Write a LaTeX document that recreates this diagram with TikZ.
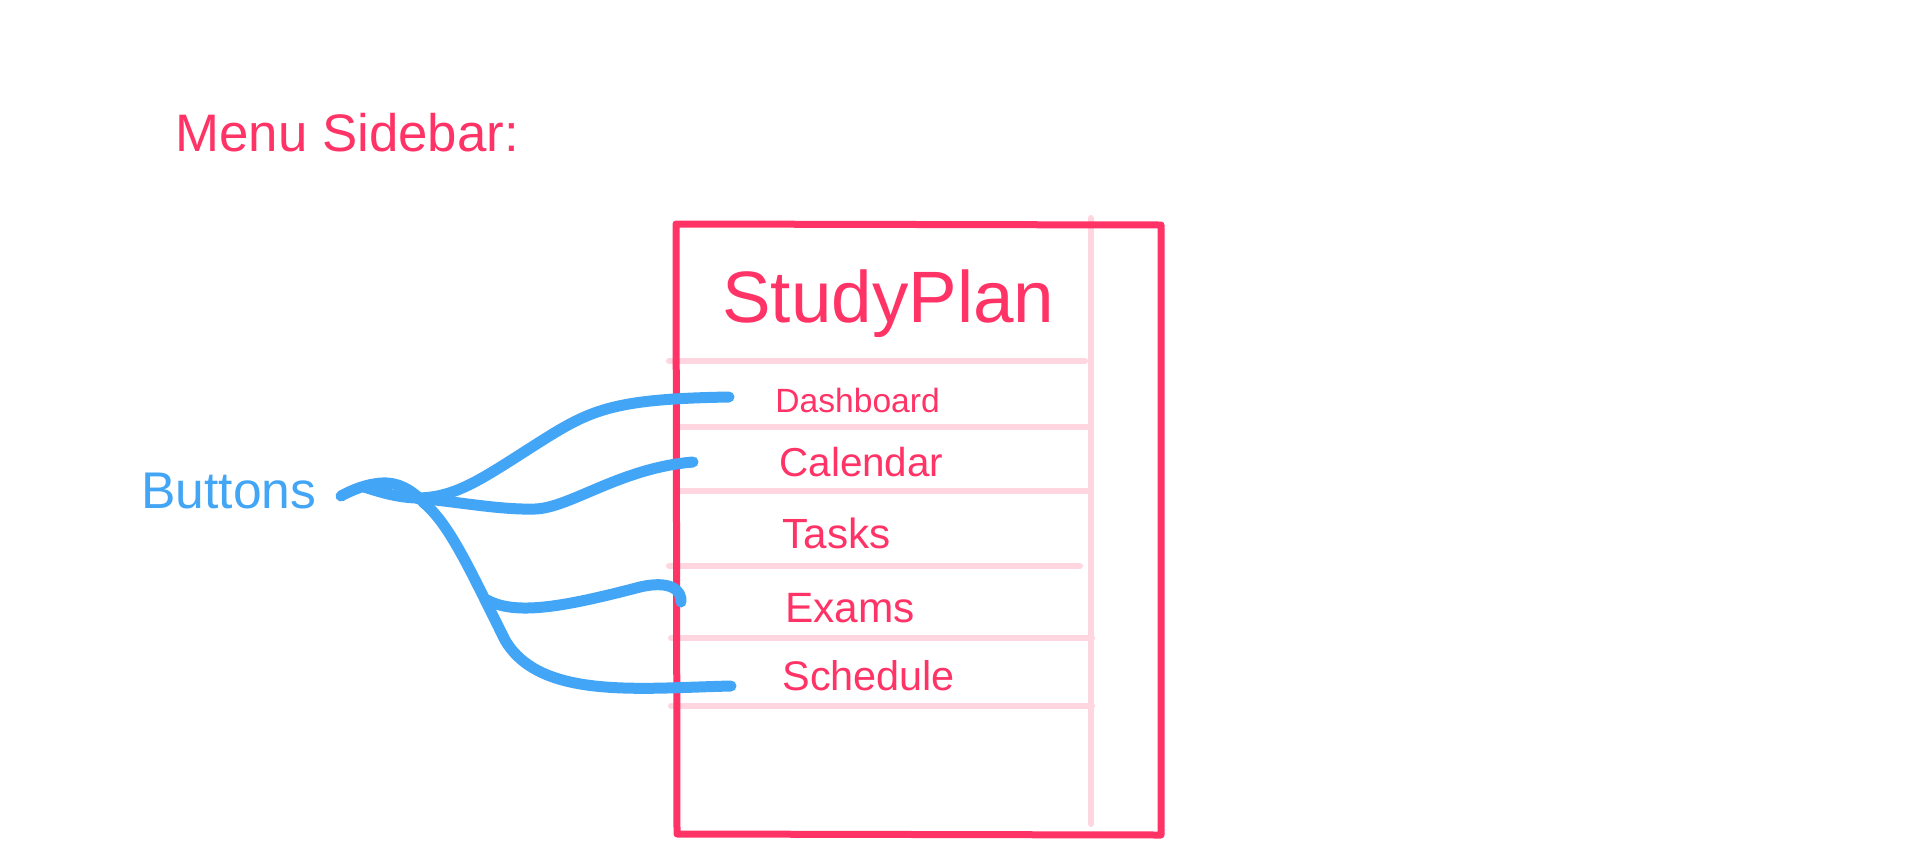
\documentclass[tikz,border=0pt]{standalone}
\usepackage{fontspec}
\setmainfont{Liberation Sans}
\definecolor{rosered}{RGB}{255,51,102}
\definecolor{palepink}{RGB}{255,214,224}
\definecolor{skyblue}{RGB}{66,165,245}
\begin{document}
\begin{tikzpicture}[x=0.5pt,y=-0.5pt,
  frame/.style={draw=rosered,line width=3.5pt,line join=round,line cap=round},
  divider/.style={draw=palepink,line width=3pt,line cap=round},
  wire/.style={draw=skyblue,line width=5.5pt,line cap=round,line join=round},
  lbl/.style={text=rosered,anchor=base west,inner sep=0pt},
  every node/.style={inner sep=0pt}]
\useasboundingbox (0,0) rectangle (1920,841);
% title
\node[lbl,font=\fontsize{26.4}{30}\selectfont] (title) at (175,151) {Menu Sidebar:};
% pale dividers
\draw[divider] (1091,218) -- (1091,824);
\draw[divider] (669,361) -- (1085,361);
\draw[divider] (677,427) -- (1087,427);
\draw[divider] (677,491) -- (1091,491);
\draw[divider] (669,566) -- (1080,566);
\draw[divider] (671,638) -- (1092,638);
\draw[divider] (671,706) -- (1092,706);
% frame
\draw[frame] (676,224) -- (1161,225) -- (1161,835) -- (677,834) -- cycle;
% texts
\node[lbl,font=\fontsize{36.4}{40}\selectfont] (studyplan) at (722,322) {StudyPlan};
\node[lbl,font=\fontsize{16.8}{20}\selectfont] (dash) at (775,412) {Dashboard};
\node[lbl,font=\fontsize{20.2}{24}\selectfont] (cal) at (779,476) {Calendar};
\node[lbl,font=\fontsize{21.1}{24}\selectfont] (tasks) at (782,548) {Tasks};
\node[lbl,font=\fontsize{21.2}{24}\selectfont] (exams) at (785,622) {Exams};
\node[lbl,font=\fontsize{20.7}{24}\selectfont] (sched) at (782,690) {Schedule};
\node[lbl,text=skyblue,font=\fontsize{25.8}{30}\selectfont] (buttons) at (141,508) {Buttons};
% wire end points
\coordinate (bstart) at (341,496);
\coordinate (blobin) at (364,487);
\coordinate (hub) at (416,498);
\coordinate (knot) at (424,503);
\coordinate (dashend) at (729,397);
\coordinate (calend) at (693,462);
\coordinate (examsend) at (681,602);
\coordinate (schedend) at (731,686);
\coordinate (examsfork) at (487,600);
% wires
\draw[wire] (bstart) .. controls (352,490) and (366,484) .. (382,483)
  .. controls (398,482) and (412,490) .. (knot);
\draw[wire] (blobin) .. controls (380,492) and (395,497) .. (hub);
\draw[wire] (hub) .. controls (455,498) and (480,480) .. (535,445)
  .. controls (590,410) and (610,399) .. (dashend);
\draw[wire] (hub) .. controls (460,502) and (500,510) .. (535,509)
  .. controls (570,508) and (620,468) .. (calend);
\draw[wire] (knot) .. controls (450,525) and (470,570) .. (505,640)
  .. controls (540,700) and (640,688) .. (schedend);
\draw[wire] (examsfork) .. controls (515,615) and (560,608) .. (640,587)
  .. controls (670,580) and (682,590) .. (examsend);
\end{tikzpicture}
\end{document}
